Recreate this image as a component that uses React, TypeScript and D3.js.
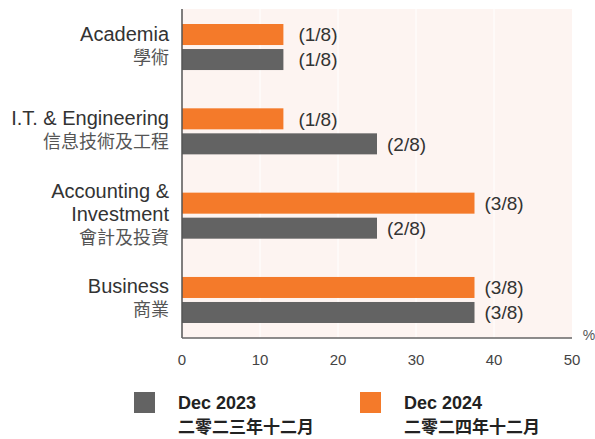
import * as d3 from 'd3';

const categories = ['Academia', 'I.T. & Engineering', 'Accounting & Investment', 'Business'];
const labelLines = [
  ['Academia', '學術'],
  ['I.T. & Engineering', '信息技術及工程'],
  ['Accounting &', 'Investment', '會計及投資'],
  ['Business', '商業'],
];
const series = ['Dec 2024', 'Dec 2023'];
const seriesZh = ['二零二四年十二月', '二零二三年十二月'];
const values2024 = [13, 13, 37.5, 37.5];
const values2023 = [13, 25, 25, 37.5];
const labels2024 = ['(1/8)', '(1/8)', '(3/8)', '(3/8)'];
const labels2023 = ['(1/8)', '(2/8)', '(2/8)', '(3/8)'];
const xTicks = [0, 10, 20, 30, 40, 50];

const W = 595;
const H = 439;
const left = 182;
const right = 572;
const top = 9;
const bottom = 338;

const ORANGE = '#f47a2a';
const GRAY = '#636363';
const FONT = '"Liberation Sans", Arial, sans-serif';
const CJK = '"Noto Sans CJK TC", "Noto Sans CJK SC", sans-serif';

export default function App() {
  const x = d3.scaleLinear().domain([0, 50]).range([left, right]);
  const y = d3.scaleBand<string>().domain(categories).range([24, 323]).paddingInner(0.454).paddingOuter(0);
  const inner = d3.scaleBand<string>().domain(series).range([0, y.bandwidth()]).paddingInner(0.16);

  const rows = categories.map((c, i) => ({
    c,
    lines: labelLines[i],
    vals: [values2024[i], values2023[i]],
    labs: [labels2024[i], labels2023[i]],
  }));

  return (
    <svg width={W} height={H} style={{ position: 'absolute', left: 0, top: 0 }}>
      <rect x={left} y={top} width={right - left} height={bottom - top} fill="#fdf4f1" />
      {xTicks.slice(1, -1).map(t => (
        <line key={t} x1={x(t)} x2={x(t)} y1={top} y2={bottom} stroke="#fff" strokeWidth={1} />
      ))}
      {rows.map(r => {
        const y0 = y(r.c)!;
        const cy = y0 + y.bandwidth() / 2;
        const n = r.lines.length;
        return (
          <g key={r.c}>
            {r.vals.map((v, k) => {
              const s = series[k];
              const by = y0 + inner(s)!;
              const bh = inner.bandwidth();
              return (
                <g key={s}>
                  <rect x={x(0)} y={by} width={x(v) - x(0)} height={bh} fill={k === 0 ? ORANGE : GRAY} />
                  <text x={x(v) + (v < 20 ? 15 : 10)} y={by + bh / 2} dy="0.36em" fontFamily={FONT} fontSize={19} fill="#333">
                    {r.labs[k]}
                  </text>
                </g>
              );
            })}
            {r.lines.map((ln, j) => {
              const isZh = j === n - 1;
              const yy = cy + (j - (n - 1) / 2) * 23 + 5;
              return (
                <text key={j} x={169} y={yy} textAnchor="end" fontFamily={isZh ? CJK : FONT}
                  fontSize={isZh ? 18 : 20} fill={isZh ? '#555' : '#333'}>
                  {ln}
                </text>
              );
            })}
          </g>
        );
      })}
      <line x1={left} x2={left} y1={top} y2={bottom} stroke="#555" strokeWidth={1.5} />
      <line x1={left} x2={right} y1={bottom} y2={bottom} stroke="#666" strokeWidth={1.5} />
      <text x={589} y={340} textAnchor="middle" fontFamily={FONT} fontSize={14} fill="#555">%</text>
      {xTicks.map(t => (
        <text key={t} x={x(t)} y={365} textAnchor="middle" fontFamily={FONT} fontSize={15} fill="#444">{t}</text>
      ))}
      {[1, 0].map((k, i) => {
        const lx = i === 0 ? 134 : 360;
        return (
          <g key={k}>
            <rect x={lx} y={392} width={21} height={21} fill={k === 0 ? ORANGE : GRAY} />
            <text x={lx + 44} y={409} fontFamily={FONT} fontSize={18} fontWeight="bold" fill="#222">{series[k]}</text>
            <text x={lx + 44} y={433} fontFamily={CJK} fontSize={17} fontWeight="bold" fill="#222">{seriesZh[k]}</text>
          </g>
        );
      })}
    </svg>
  );
}
